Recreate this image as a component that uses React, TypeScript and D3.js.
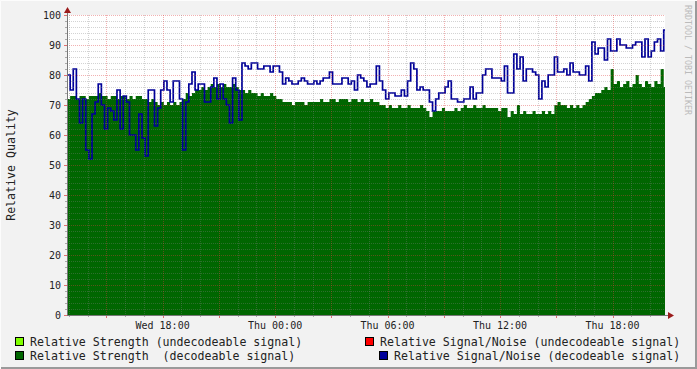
import React, { useRef, useEffect } from "react";
import * as d3 from "d3";

// 10 minute samples starting Wed 12:54 (UTC)
const START = Date.UTC(2007, 2, 7, 12, 54);
const END = Date.UTC(2007, 2, 8, 20, 48);
const STEP_MS = 10 * 60 * 1000;

// Relative Strength (decodeable signal)
const strengthDecodeable = [
  72, 73, 73, 72, 73, 73, 72, 73, 73, 73, 74, 73,
  73, 72, 73, 73, 72, 73, 73, 72, 73, 72, 73, 73, 72,
  72, 71, 72, 71,
  70, 71, 70, 71, 70, 71, 70, 71, 72,
  74, 73, 74, 75,
  75, 76, 75, 76,
  77, 76, 77, 76, 77, 76, 76, 77,
  76, 75, 75, 74, 75,
  74, 74, 73, 74,
  73, 73, 74, 73, 72, 72,
  71, 71, 71, 70, 71, 71, 71, 70, 71, 71, 71, 71, 72, 71, 71, 72,
  72, 71, 72, 72, 72, 71, 72, 72, 71, 72,
  71, 71, 72, 71, 71, 70,
  70, 69, 70, 69, 69, 70, 69, 69, 70, 69, 69, 69, 70, 69, 68,
  66, 68, 68,
  68, 69, 68, 68, 68, 69, 68, 69,
  70, 69, 69, 70, 69, 69, 70, 69, 69, 69,
  69, 68, 69, 69, 66, 68,
  67, 70, 67, 68, 67, 67,
  68, 67, 67, 68, 67, 68, 67,
  70, 71, 70, 70,
  69, 70, 69, 70, 69, 70, 71,
  72, 73, 74, 74,
  75, 76, 75, 82, 77,
  78, 76, 77, 78, 76,
  77, 80, 77, 76, 78,
  77, 76, 78, 77, 82, 76,
];

// Relative Signal/Noise (decodeable signal)
const snrDecodeable = [
  80, 75, 82, 72, 64, 72, 55, 52, 67, 71,
  77, 70, 62, 69, 68, 65, 75, 62, 73, 71,
  60, 60, 55, 67, 59, 53, 75, 75, 63, 69,
  75, 78, 75, 71, 78, 78, 72, 55, 71, 77,
  81, 75, 77, 77, 71, 71, 76, 79, 72, 77,
  72, 70, 64, 79, 75, 65, 84, 83, 82, 84,
  84, 82, 82, 83, 83, 81, 83, 83, 81, 77,
  79, 78, 77, 77, 78, 79, 78, 77, 77, 78,
  77, 78, 79, 79, 81, 77, 77, 77, 79, 79,
  77, 78, 75, 80, 79, 78, 76, 77, 77, 83,
  78, 75, 72, 74, 74, 73, 73, 75, 73, 78,
  84, 82, 75, 76, 75, 75, 71, 68, 72, 74,
  74, 76, 78, 72, 72, 71, 71, 72, 72, 76,
  72, 74, 74, 80, 82, 82, 79, 79, 79, 78,
  83, 74, 74, 87, 82, 86, 78, 82, 82, 81,
  80, 72, 78, 76, 80, 80, 86, 81, 81, 82,
  80, 84, 81, 81, 80, 80, 83, 78, 91, 87,
  89, 89, 85, 92, 88, 88, 92, 90, 90, 89,
  89, 90, 91, 91, 86, 92, 86, 88, 91, 92,
  88, 95,
];

const yTicks = [0, 10, 20, 30, 40, 50, 60, 70, 80, 90, 100];

const legendItems = [
  { label: "Relative Strength (undecodeable signal)", color: "#80ff00", col: 0, row: 0 },
  { label: "Relative Signal/Noise (undecodeable signal)", color: "#ff0000", col: 1, row: 0 },
  { label: "Relative Strength  (decodeable signal)", color: "#006600", col: 0, row: 1 },
  { label: "Relative Signal/Noise (decodeable signal)", color: "#000099", col: 2, row: 1 },
];

const W = 697;
const H = 369;
const FONT = "'DejaVu Sans Mono', monospace";

export default function App() {
  const ref = useRef<SVGSVGElement>(null);

  useEffect(() => {
    if (!ref.current) return;
    const svg = d3.select(ref.current);
    svg.selectAll("*").remove();

    const margin = { top: 15, right: 32, bottom: 54, left: 67 };
    const x = d3.scaleUtc()
      .domain([new Date(START), new Date(END)])
      .range([margin.left, W - margin.right]);
    const y = d3.scaleLinear()
      .domain([0, 100])
      .range([H - margin.bottom, margin.top]);
    const [x0, x1] = x.range();
    const [yb, yt] = y.range();

    // background + frame
    svg.append("rect").attr("width", W).attr("height", H).attr("fill", "#f2f2f2");
    svg.append("path").attr("d", `M0.5,${H} V0.5 H${W}`).attr("fill", "none").attr("stroke", "#fcfcfc");
    svg.append("path").attr("d", `M1,${H - 1} H${W - 1} V1`).attr("fill", "none").attr("stroke", "#9a9a9a").attr("stroke-width", 2);
    svg.append("rect").attr("x", x0).attr("y", yt).attr("width", x1 - x0).attr("height", yb - yt).attr("fill", "#ffffff");

    const defs = svg.append("defs");
    defs.append("clipPath").attr("id", "plot-clip")
      .append("rect").attr("x", x0).attr("y", yt - 1).attr("width", x1 - x0).attr("height", yb - yt + 1);

    const toPts = (arr: number[]) => {
      const pts = arr.map((v, i) => ({ t: new Date(START + i * STEP_MS), v }));
      pts.push({ t: new Date(START + arr.length * STEP_MS), v: arr[arr.length - 1] });
      return pts;
    };

    const plot = svg.append("g").attr("clip-path", "url(#plot-clip)");

    const area = d3.area<{ t: Date; v: number }>()
      .curve(d3.curveStepAfter)
      .x(d => x(d.t))
      .y0(yb)
      .y1(d => y(d.v));
    plot.append("path")
      .datum(toPts(strengthDecodeable))
      .attr("fill", "#006600")
      .attr("d", area);

    const line = d3.line<{ t: Date; v: number }>()
      .curve(d3.curveStepAfter)
      .x(d => x(d.t))
      .y(d => y(d.v));
    plot.append("path")
      .datum(toPts(snrDecodeable))
      .attr("fill", "none")
      .attr("stroke", "#000099")
      .attr("stroke-width", 1.7)
      .attr("d", line);

    // grid: minor every 2 units / 1 hour, major every 10 units / 3 hours
    const grid = svg.append("g").attr("shape-rendering", "crispEdges");
    const minorY = d3.range(2, 101, 2).filter(v => v % 10 !== 0);
    grid.selectAll(".hmin").data(minorY).enter().append("line")
      .attr("x1", x0).attr("x2", x1)
      .attr("y1", d => Math.round(y(d)) + 0.5).attr("y2", d => Math.round(y(d)) + 0.5)
      .attr("stroke", "rgba(128,128,128,0.35)").attr("stroke-dasharray", "1,1");
    grid.selectAll(".hmaj").data(yTicks.filter(v => v > 0)).enter().append("line")
      .attr("x1", x0).attr("x2", x1)
      .attr("y1", d => Math.round(y(d)) + 0.5).attr("y2", d => Math.round(y(d)) + 0.5)
      .attr("stroke", "rgba(220,60,60,0.4)").attr("stroke-dasharray", "1,1");

    const hours = x.ticks(d3.utcHour.every(1)!);
    const minorX = hours.filter(d => d.getUTCHours() % 3 !== 0);
    const majorX = hours.filter(d => d.getUTCHours() % 3 === 0);
    grid.selectAll(".vmin").data(minorX).enter().append("line")
      .attr("x1", d => Math.round(x(d)) + 0.5).attr("x2", d => Math.round(x(d)) + 0.5)
      .attr("y1", yt).attr("y2", yb)
      .attr("stroke", "rgba(128,128,128,0.35)").attr("stroke-dasharray", "1,1");
    grid.selectAll(".vmaj").data(majorX).enter().append("line")
      .attr("x1", d => Math.round(x(d)) + 0.5).attr("x2", d => Math.round(x(d)) + 0.5)
      .attr("y1", yt).attr("y2", yb)
      .attr("stroke", "rgba(220,60,60,0.4)").attr("stroke-dasharray", "1,1");

    // tick marks
    grid.selectAll(".xtmin").data(minorX).enter().append("line")
      .attr("x1", d => Math.round(x(d)) + 0.5).attr("x2", d => Math.round(x(d)) + 0.5)
      .attr("y1", yb).attr("y2", yb + 2).attr("stroke", "#aaa");
    grid.selectAll(".xtmaj").data(majorX).enter().append("line")
      .attr("x1", d => Math.round(x(d)) + 0.5).attr("x2", d => Math.round(x(d)) + 0.5)
      .attr("y1", yb).attr("y2", yb + 3).attr("stroke", "#e07070");
    grid.selectAll(".ytmin").data(minorY).enter().append("line")
      .attr("x1", x0 - 2).attr("x2", x0)
      .attr("y1", d => Math.round(y(d)) + 0.5).attr("y2", d => Math.round(y(d)) + 0.5)
      .attr("stroke", "#aaa");
    grid.selectAll(".ytmaj").data(yTicks).enter().append("line")
      .attr("x1", x0 - 3).attr("x2", x0)
      .attr("y1", d => Math.round(y(d)) + 0.5).attr("y2", d => Math.round(y(d)) + 0.5)
      .attr("stroke", "#e07070");

    // axes with arrows
    grid.append("line").attr("x1", x0 + 0.5).attr("x2", x0 + 0.5).attr("y1", yb).attr("y2", 11)
      .attr("stroke", "#777");
    grid.append("line").attr("x1", x0).attr("x2", 669).attr("y1", yb + 0.5).attr("y2", yb + 0.5)
      .attr("stroke", "#777");
    svg.append("path").attr("d", `M${x0 - 3},13 L${x0 + 0.5},7 L${x0 + 4},13 Z`).attr("fill", "#9b1c1c");
    svg.append("path").attr("d", `M668,${yb - 3} L674,${yb + 0.5} L668,${yb + 4} Z`).attr("fill", "#9b1c1c");

    // y labels
    svg.selectAll(".ylab").data(yTicks).enter().append("text")
      .attr("x", 61).attr("y", d => y(d) + 4)
      .attr("text-anchor", "end").attr("font-family", FONT).attr("font-size", 10)
      .attr("fill", "#222").text(d => String(d));

    // x labels
    const labelTicks = x.ticks(d3.utcHour.every(6)!);
    svg.selectAll(".xlab").data(labelTicks).enter().append("text")
      .attr("x", d => x(d)).attr("y", yb + 14)
      .attr("text-anchor", "middle").attr("font-family", FONT).attr("font-size", 10)
      .attr("fill", "#222").text(d => d3.utcFormat("%a %H:%M")(d));

    // y axis title
    svg.append("text")
      .attr("transform", `translate(15,${(yt + yb) / 2}) rotate(-90)`)
      .attr("text-anchor", "middle").attr("font-family", FONT).attr("font-size", 11.6)
      .attr("fill", "#222").text("Relative Quality");

    // watermark
    svg.append("text")
      .attr("transform", `translate(685,5) rotate(90)`)
      .attr("text-anchor", "start").attr("font-family", FONT).attr("font-size", 8.3)
      .attr("fill", "#bbbbbb").text("RRDTOOL / TOBI OETIKER");

    // legend
    const colX = [15, 365, 379];
    const rowY = [337, 351];
    const lg = svg.selectAll(".leg").data(legendItems).enter().append("g")
      .attr("transform", d => `translate(${colX[d.col]},${rowY[d.row]})`);
    lg.append("rect").attr("x", 0.5).attr("y", 0.5).attr("width", 8).attr("height", 8)
      .attr("fill", d => d.color).attr("stroke", "#000");
    lg.append("text").attr("x", 15).attr("y", 8.5)
      .attr("font-family", FONT).attr("font-size", 11.6).attr("fill", "#222")
      .style("white-space", "pre")
      .text(d => d.label);
  }, []);

  return <svg ref={ref} width={W} height={H} style={{ display: "block", position: "absolute", left: 0, top: 0 }} />;
}
